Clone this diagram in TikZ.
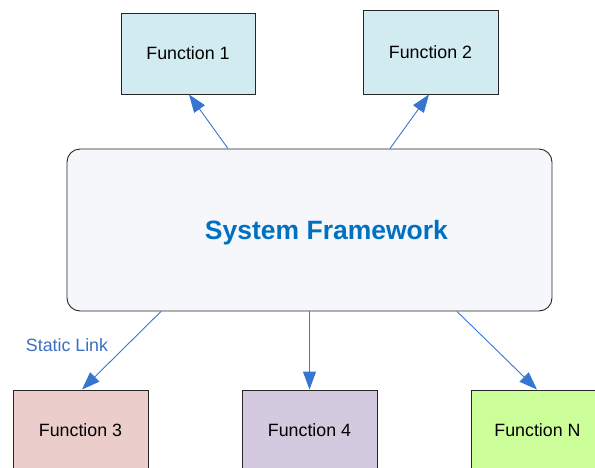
\documentclass[tikz,border=0pt]{standalone}
\usepackage{fontspec}
\setmainfont{Liberation Sans}
\usetikzlibrary{arrows.meta}
\definecolor{cyanfill}{HTML}{D2EBF0}
\definecolor{pinkfill}{HTML}{EBCDCC}
\definecolor{lavfill}{HTML}{D4CADF}
\definecolor{greenfill}{HTML}{CCFF99}
\definecolor{frfill}{HTML}{F5F7FB}
\definecolor{arrowblue}{HTML}{3676D0}
\definecolor{titleblue}{HTML}{0070C0}
\definecolor{labelblue}{HTML}{3B6EBF}
\tikzset{
  fbox/.style={draw=black!85, line width=0.9pt, inner sep=0pt},
  ftext/.style={font=\fontsize{17.8}{20}\selectfont, inner sep=0pt},
  link/.style={draw=arrowblue, line width=0.9pt, -{Triangle[length=18pt,width=13pt]}},
}
\begin{document}
\begin{tikzpicture}[x=1pt,y=-1pt]
\useasboundingbox (0,0) rectangle (595,467);
\node[fbox, ftext, fill=cyanfill, minimum width=134pt, minimum height=81pt] (f1) at (188,53.5) {Function 1};
\node[fbox, ftext, fill=cyanfill, minimum width=135pt, minimum height=84pt] (f2) at (430.5,52) {Function 2};
\node[draw=black!85, line width=0.9pt, fill=frfill, rounded corners=13pt, minimum width=485pt, minimum height=162pt] (fw) at (309.5,230) {};
\node[font=\fontsize{26.5}{30}\selectfont\bfseries, text=titleblue] (fwt) at (326.5,232.5) {System Framework};
\node[fbox, fill=pinkfill, minimum width=135pt, minimum height=100pt] (f3) at (80.5,440) {};
\node[fbox, fill=lavfill, minimum width=135pt, minimum height=100pt] (f4) at (309.5,440) {};
\node[fbox, fill=greenfill, minimum width=135pt, minimum height=100pt] (fn) at (538.5,440) {};
\node[ftext] (f3t) at (80.5,430) {Function 3};
\node[ftext] (f4t) at (309.5,430) {Function 4};
\node[ftext] (fnt) at (537.5,430) {Function N};
\node[font=\fontsize{17.8}{20}\selectfont, text=labelblue] (sl) at (67,345) {Static Link};
\draw[link] (fw.north -| 228,0) -- (f1.south -| 189,0);
\draw[link] (fw.north -| 390,0) -- (f2.south -| 429,0);
\draw[link] (fw.south -| 161,0) -- (f3.north -| 82,0);
\draw[link] (fw.south) -- (f4.north);
\draw[link] (fw.south -| 457,0) -- (fn.north -| 537,0);
\end{tikzpicture}
\end{document}
